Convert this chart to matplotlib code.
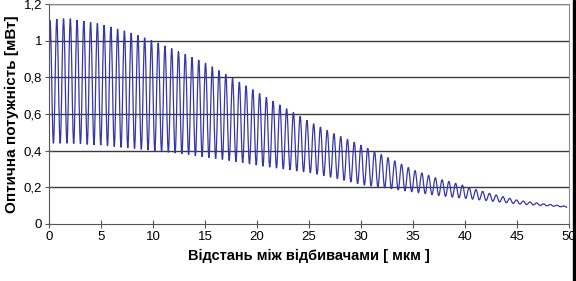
import matplotlib
matplotlib.use("Agg")
import matplotlib.pyplot as plt
from matplotlib.patches import Rectangle, PathPatch
from matplotlib.path import Path

# Peak positions (мкм) and peak power (мВт)
peak_x = [0.10, 0.75, 1.40, 2.05, 2.70, 3.35, 4.00, 4.65, 5.30, 5.95,
          6.60, 7.25, 7.90, 8.55, 9.20, 9.85, 10.50, 11.15, 11.80, 12.45,
          13.10, 13.75, 14.40, 15.05, 15.70, 16.35, 17.00, 17.65, 18.30, 18.95,
          19.60, 20.25, 20.90, 21.55, 22.20, 22.85, 23.50, 24.15, 24.80, 25.45,
          26.10, 26.75, 27.40, 28.05, 28.70, 29.35, 30.00, 30.65, 31.30, 31.95,
          32.60, 33.25, 33.90, 34.55, 35.20, 35.85, 36.50, 37.15, 37.80, 38.45,
          39.10, 39.75, 40.40, 41.05, 41.70, 42.35, 43.00, 43.65, 44.30, 44.95,
          45.60, 46.25, 46.90, 47.55, 48.20, 48.85, 49.50]
peak_y = [1.110, 1.117, 1.120, 1.120, 1.113, 1.107, 1.100, 1.094, 1.085, 1.075,
          1.064, 1.054, 1.042, 1.029, 1.016, 1.003, 0.988, 0.972, 0.957, 0.941,
          0.926, 0.910, 0.894, 0.878, 0.858, 0.837, 0.816, 0.795, 0.774, 0.754,
          0.733, 0.712, 0.691, 0.670, 0.650, 0.629, 0.608, 0.587, 0.566, 0.547,
          0.529, 0.511, 0.493, 0.477, 0.461, 0.446, 0.430, 0.413, 0.396, 0.379,
          0.362, 0.344, 0.326, 0.308, 0.291, 0.278, 0.265, 0.252, 0.241, 0.232,
          0.222, 0.212, 0.199, 0.188, 0.178, 0.167, 0.158, 0.149, 0.140, 0.131,
          0.125, 0.120, 0.115, 0.110, 0.106, 0.102, 0.098]

# Trough positions and values
trough_x = [0.425, 1.075, 1.725, 2.375, 3.025, 3.675, 4.325, 4.975, 5.625, 6.275,
            6.925, 7.575, 8.225, 8.875, 9.525, 10.175, 10.825, 11.475, 12.125, 12.775,
            13.425, 14.075, 14.725, 15.375, 16.025, 16.675, 17.325, 17.975, 18.625, 19.275,
            19.925, 20.575, 21.225, 21.875, 22.525, 23.175, 23.825, 24.475, 25.125, 25.775,
            26.425, 27.075, 27.725, 28.375, 29.025, 29.675, 30.325, 30.975, 31.625, 32.275,
            32.925, 33.575, 34.225, 34.875, 35.525, 36.175, 36.825, 37.475, 38.125, 38.775,
            39.425, 40.075, 40.725, 41.375, 42.025, 42.675, 43.325, 43.975, 44.625, 45.275,
            45.925, 46.575, 47.225, 47.875, 48.525, 49.175, 49.825]
trough_y = [0.440, 0.440, 0.440, 0.439, 0.437, 0.434, 0.432, 0.430, 0.426, 0.422,
            0.418, 0.415, 0.411, 0.407, 0.403, 0.399, 0.395, 0.391, 0.387, 0.383,
            0.378, 0.372, 0.367, 0.362, 0.357, 0.352, 0.346, 0.340, 0.334, 0.327,
            0.321, 0.315, 0.310, 0.305, 0.300, 0.295, 0.289, 0.284, 0.279, 0.271,
            0.263, 0.255, 0.247, 0.238, 0.229, 0.220, 0.212, 0.207, 0.202, 0.197,
            0.192, 0.186, 0.181, 0.176, 0.171, 0.166, 0.160, 0.155, 0.151, 0.147,
            0.143, 0.140, 0.136, 0.132, 0.128, 0.124, 0.120, 0.116, 0.112, 0.109,
            0.106, 0.104, 0.101, 0.099, 0.097, 0.094, 0.091]

start_point = (0.0, 0.85)

x_ticks = [0, 5, 10, 15, 20, 25, 30, 35, 40, 45, 50]
y_ticks = [0, 0.2, 0.4, 0.6, 0.8, 1.0, 1.2]
y_tick_labels = ["0", "0,2", "0,4", "0,6", "0,8", "1", "1,2"]

# merge peaks and troughs into one trace
xs = [start_point[0]]
ys = [start_point[1]]
for px, py, tx, ty in zip(peak_x, peak_y, trough_x, trough_y):
    xs += [px, tx]
    ys += [py, ty]

# smooth the trace with cubic Bezier pieces (flat tangents at the extrema)
verts = [(xs[0], ys[0])]
codes = [Path.MOVETO]
for i in range(1, len(xs)):
    h = xs[i] - xs[i - 1]
    verts += [(xs[i - 1] + 0.36 * h, ys[i - 1]), (xs[i] - 0.36 * h, ys[i]), (xs[i], ys[i])]
    codes += [Path.CURVE4] * 3

plt.rcParams['font.family'] = ['Liberation Sans', 'DejaVu Sans']

fig = plt.figure(figsize=(5.76, 2.81), dpi=100)
ax = fig.add_axes([49 / 576, 1 - 224 / 281, 520 / 576, 220 / 281])

for y in y_ticks[1:]:
    ax.axhline(y, color='#3a3a3a', lw=1.0, zorder=1)
ax.add_patch(PathPatch(Path(verts, codes), facecolor='none', edgecolor='#3636a6',
                       lw=0.9, zorder=2))

ax.set_xlim(0, 50)
ax.set_ylim(0, 1.2)
ax.set_xticks(x_ticks)
ax.set_xticklabels([str(t) for t in x_ticks])
ax.set_yticks(y_ticks)
ax.set_yticklabels(y_tick_labels)
ax.tick_params(direction='inout', length=6, width=0.8, color='#555555',
               labelsize=9.5, pad=2)

for side in ['top', 'right']:
    ax.spines[side].set_color('#8a8a8a')
for side in ['left', 'bottom']:
    ax.spines[side].set_color('#555555')

ax.set_xlabel("Відстань між відбивачами [ мкм ]", fontsize=10.5,
              fontweight='bold', labelpad=4)
ax.set_ylabel("Оптична потужність [мВт]", fontsize=11,
              fontweight='bold', labelpad=3)

# dark strip on the right edge of the original image
fig.patches.append(Rectangle((573 / 576, 0), 3 / 576, 1, transform=fig.transFigure,
                             color='black', zorder=10))

fig.savefig("out.png", dpi=100)
